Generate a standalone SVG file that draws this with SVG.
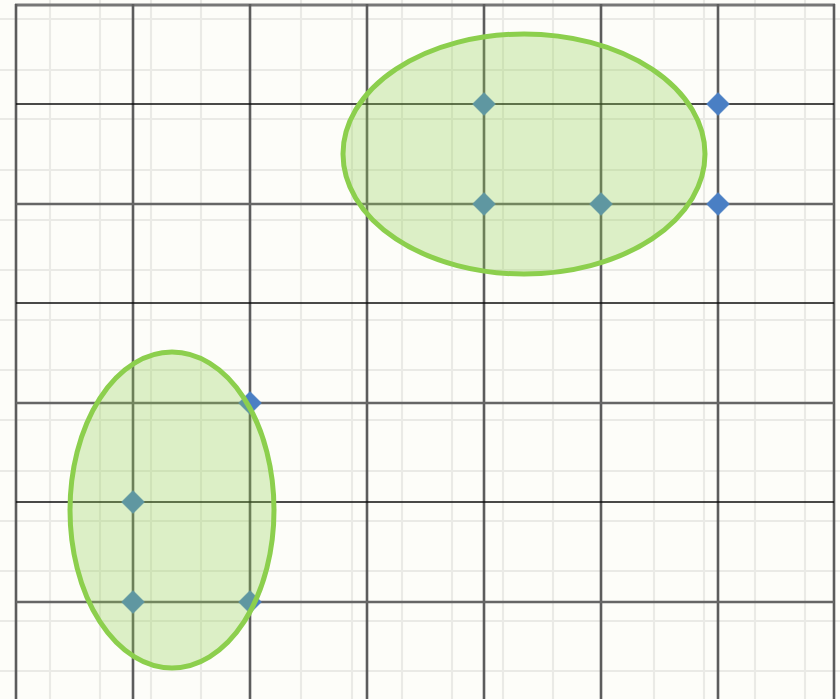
<svg xmlns="http://www.w3.org/2000/svg" width="840" height="699" viewBox="0 0 840 699">
<defs>
<style>
.minor{stroke:#e4e4e0;stroke-width:2.2;opacity:0.75}
.vmaj{stroke:#5c5c5c;stroke-width:2.6}
.hthin{stroke:#0d0d0d;stroke-width:1.6}
.hthick{stroke:#666;stroke-width:2.6}
.dot{fill:#4a7fc4;stroke:#4a7fc4;stroke-width:1;stroke-opacity:0.5}
.zone{fill:#92d050;fill-opacity:0.3;stroke:#8ccf4d;stroke-width:5}
</style>
<polygon id="dm" points="0,-11.5 11.5,0 0,11.5 -11.5,0"/>
</defs>
<rect width="840" height="699" fill="#fdfdf9"/>
<g id="minor-grid" class="minor">
<line x1="50" y1="0" x2="50" y2="699"/>
<line x1="100" y1="0" x2="100" y2="699"/>
<line x1="151" y1="0" x2="151" y2="699"/>
<line x1="201" y1="0" x2="201" y2="699"/>
<line x1="301" y1="0" x2="301" y2="699"/>
<line x1="352" y1="0" x2="352" y2="699"/>
<line x1="402" y1="0" x2="402" y2="699"/>
<line x1="452" y1="0" x2="452" y2="699"/>
<line x1="503" y1="0" x2="503" y2="699"/>
<line x1="553" y1="0" x2="553" y2="699"/>
<line x1="654" y1="0" x2="654" y2="699"/>
<line x1="704" y1="0" x2="704" y2="699"/>
<line x1="755" y1="0" x2="755" y2="699"/>
<line x1="805" y1="0" x2="805" y2="699"/>
<line x1="0" y1="19" x2="840" y2="19"/>
<line x1="0" y1="70" x2="840" y2="70"/>
<line x1="0" y1="119" x2="840" y2="119"/>
<line x1="0" y1="170" x2="840" y2="170"/>
<line x1="0" y1="220" x2="840" y2="220"/>
<line x1="0" y1="270" x2="840" y2="270"/>
<line x1="0" y1="320" x2="840" y2="320"/>
<line x1="0" y1="370" x2="840" y2="370"/>
<line x1="0" y1="420" x2="840" y2="420"/>
<line x1="0" y1="471" x2="840" y2="471"/>
<line x1="0" y1="521" x2="840" y2="521"/>
<line x1="0" y1="571" x2="840" y2="571"/>
<line x1="0" y1="621" x2="840" y2="621"/>
<line x1="0" y1="671" x2="840" y2="671"/>
</g>
<g id="connectors">
<line class="hthick" x1="15" y1="5" x2="835" y2="5" style="stroke:#777;stroke-width:3"/>
<line class="vmaj" x1="16" y1="4" x2="16" y2="699"/>
<line class="vmaj" x1="133" y1="4" x2="133" y2="699"/>
<line class="vmaj" x1="250" y1="4" x2="250" y2="699"/>
<line class="vmaj" x1="367" y1="4" x2="367" y2="699"/>
<line class="vmaj" x1="484" y1="4" x2="484" y2="699"/>
<line class="vmaj" x1="601" y1="4" x2="601" y2="699"/>
<line class="vmaj" x1="718" y1="4" x2="718" y2="699"/>
<line class="vmaj" x1="834" y1="4" x2="834" y2="699"/>
<line class="hthin" x1="16" y1="104" x2="834" y2="104"/>
<line class="hthick" x1="16" y1="204" x2="834" y2="204"/>
<line class="hthin" x1="16" y1="303" x2="834" y2="303"/>
<line class="hthick" x1="16" y1="403" x2="834" y2="403"/>
<line class="hthin" x1="16" y1="502" x2="834" y2="502"/>
<line class="hthick" x1="16" y1="602" x2="834" y2="602"/>
</g>
<g id="node-p1"><use href="#dm" class="dot" x="484" y="104"/></g>
<g id="node-p2"><use href="#dm" class="dot" x="718" y="104"/></g>
<g id="node-p3"><use href="#dm" class="dot" x="484" y="204"/></g>
<g id="node-p4"><use href="#dm" class="dot" x="601" y="204"/></g>
<g id="node-p5"><use href="#dm" class="dot" x="718" y="204"/></g>
<g id="node-p6"><use href="#dm" class="dot" x="250" y="403"/></g>
<g id="node-p7"><use href="#dm" class="dot" x="133" y="502"/></g>
<g id="node-p8"><use href="#dm" class="dot" x="133" y="602"/></g>
<g id="node-p9"><use href="#dm" class="dot" x="250" y="602"/></g>
<g id="node-cluster-top"><ellipse class="zone" cx="524" cy="154" rx="181" ry="120"/></g>
<g id="node-cluster-bottom"><ellipse class="zone" cx="172" cy="510" rx="102" ry="158"/></g>
</svg>
